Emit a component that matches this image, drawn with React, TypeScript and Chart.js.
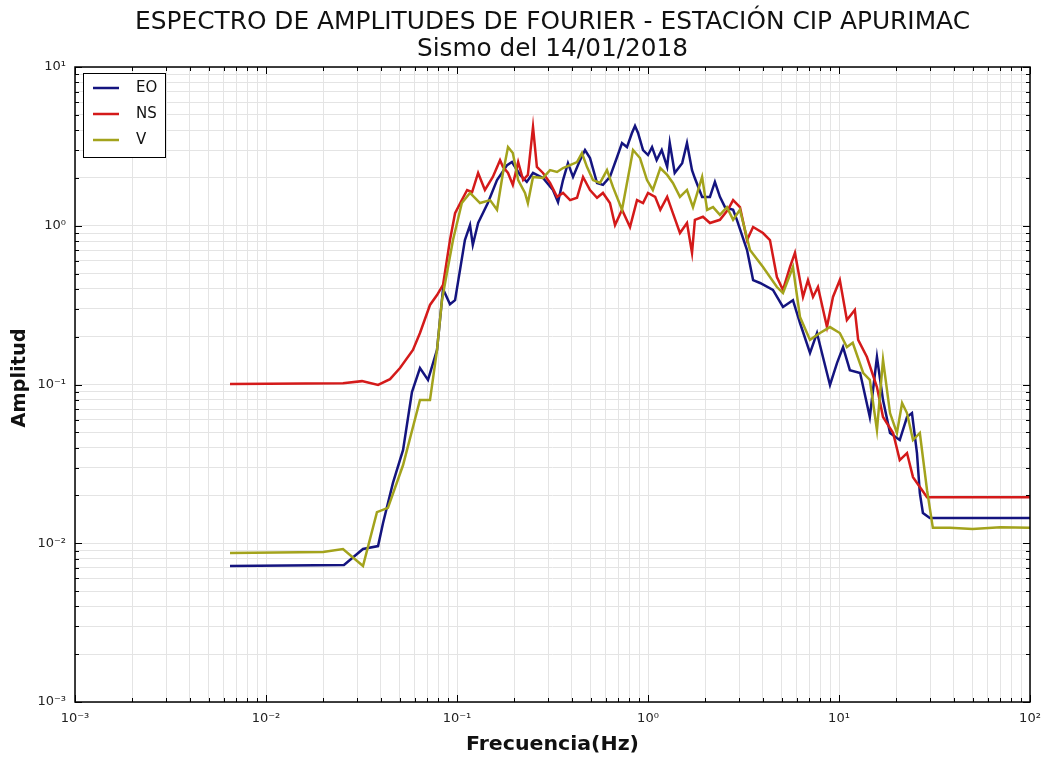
import React, { useEffect, useRef } from 'react';
import { Chart, registerables } from 'chart.js';

Chart.register(...registerables);

// ---- Data (frequency in Hz, Fourier amplitude) ----
const eoFreq = [0.00648, 0.0256, 0.0322, 0.0386, 0.041, 0.0462, 0.0522, 0.0581, 0.064, 0.0705, 0.0786, 0.0845, 0.0919, 0.0977, 0.110, 0.117, 0.121, 0.129, 0.145, 0.162, 0.183, 0.194, 0.214, 0.232, 0.250, 0.282, 0.318, 0.338, 0.359, 0.381, 0.405, 0.441, 0.468, 0.497, 0.541, 0.581, 0.632, 0.689, 0.731, 0.776, 0.824, 0.855, 0.887, 0.942, 1.0, 1.05, 1.11, 1.18, 1.26, 1.30, 1.38, 1.51, 1.60, 1.70, 1.76, 1.92, 2.11, 2.24, 2.38, 2.53, 2.79, 2.92, 3.30, 3.55, 3.86, 4.51, 5.09, 5.74, 6.25, 7.05, 7.67, 8.24, 8.97, 9.77, 10.5, 11.4, 12.9, 14.5, 15.8, 17.0, 18.5, 20.8, 22.7, 24.1, 25.6, 26.5, 27.5, 29.9, 50, 100];
const eoAmp = [0.00719, 0.0073, 0.0092, 0.0096, 0.0134, 0.024, 0.0387, 0.0897, 0.127, 0.107, 0.165, 0.40, 0.32, 0.34, 0.813, 1.01, 0.757, 1.04, 1.39, 1.94, 2.41, 2.52, 2.09, 1.89, 2.15, 2.00, 1.68, 1.41, 1.94, 2.48, 2.03, 2.59, 3.00, 2.67, 1.86, 1.81, 2.03, 2.71, 3.32, 3.13, 3.84, 4.25, 3.84, 3.00, 2.79, 3.13, 2.59, 3.00, 2.35, 3.32, 2.15, 2.48, 3.32, 2.24, 1.99, 1.52, 1.52, 1.89, 1.52, 1.31, 1.26, 1.09, 0.703, 0.455, 0.436, 0.394, 0.308, 0.340, 0.244, 0.158, 0.211, 0.149, 0.0993, 0.137, 0.172, 0.123, 0.118, 0.0624, 0.149, 0.0798, 0.0495, 0.0447, 0.0624, 0.0661, 0.0370, 0.0207, 0.0155, 0.0144, 0.0144, 0.0144];

const nsFreq = [0.00648, 0.0253, 0.0318, 0.0386, 0.0446, 0.0503, 0.0588, 0.064, 0.0722, 0.0786, 0.0845, 0.0919, 0.0977, 0.106, 0.113, 0.120, 0.129, 0.140, 0.154, 0.168, 0.174, 0.185, 0.196, 0.209, 0.222, 0.235, 0.250, 0.262, 0.282, 0.307, 0.334, 0.359, 0.391, 0.425, 0.457, 0.497, 0.541, 0.581, 0.632, 0.672, 0.731, 0.805, 0.876, 0.942, 1.0, 1.09, 1.16, 1.26, 1.35, 1.47, 1.60, 1.70, 1.76, 1.94, 2.11, 2.38, 2.62, 2.79, 3.03, 3.30, 3.55, 4.00, 4.35, 4.73, 5.09, 5.54, 5.88, 6.48, 6.88, 7.31, 7.76, 8.65, 9.30, 10.1, 11.0, 12.1, 12.6, 14.0, 15.8, 17.0, 19.2, 20.8, 22.7, 24.4, 26.5, 28.9, 50, 100];
const nsAmp = [0.1007, 0.102, 0.105, 0.0993, 0.108, 0.127, 0.165, 0.211, 0.317, 0.366, 0.424, 0.813, 1.20, 1.45, 1.68, 1.63, 2.15, 1.68, 2.03, 2.59, 2.35, 2.15, 1.81, 2.52, 1.94, 2.09, 4.19, 2.35, 2.15, 1.86, 1.52, 1.61, 1.45, 1.50, 2.03, 1.68, 1.50, 1.61, 1.39, 1.01, 1.26, 0.982, 1.45, 1.39, 1.61, 1.52, 1.26, 1.52, 1.20, 0.900, 1.04, 0.674, 1.09, 1.14, 1.04, 1.09, 1.26, 1.45, 1.31, 0.813, 0.982, 0.900, 0.813, 0.475, 0.394, 0.550, 0.674, 0.356, 0.455, 0.356, 0.411, 0.230, 0.356, 0.455, 0.255, 0.295, 0.191, 0.149, 0.0964, 0.0624, 0.0495, 0.0334, 0.0370, 0.0261, 0.0226, 0.0195, 0.0195, 0.0195];

const vFreq = [0.00648, 0.0199, 0.0253, 0.0322, 0.0381, 0.0435, 0.0522, 0.064, 0.0722, 0.0786, 0.0834, 0.0953, 0.106, 0.117, 0.132, 0.149, 0.162, 0.174, 0.185, 0.196, 0.209, 0.227, 0.235, 0.250, 0.282, 0.307, 0.334, 0.359, 0.391, 0.425, 0.451, 0.479, 0.515, 0.561, 0.610, 0.656, 0.731, 0.805, 0.835, 0.908, 0.988, 1.06, 1.16, 1.26, 1.35, 1.47, 1.60, 1.72, 1.92, 2.04, 2.19, 2.38, 2.59, 2.79, 3.03, 3.42, 4.00, 4.73, 5.09, 5.74, 6.25, 7.05, 7.95, 8.97, 10.1, 11.0, 11.8, 13.4, 14.5, 15.8, 17.0, 18.5, 20.1, 21.4, 22.7, 24.4, 26.5, 28.9, 31.0, 38.1, 50, 70, 100];
const vAmp = [0.00868, 0.00881, 0.0092, 0.00719, 0.0157, 0.0167, 0.0311, 0.0798, 0.0798, 0.165, 0.340, 0.813, 1.39, 1.61, 1.39, 1.45, 1.26, 2.15, 3.13, 2.87, 1.94, 1.61, 1.39, 2.03, 2.00, 2.24, 2.18, 2.31, 2.41, 2.52, 2.87, 2.35, 1.94, 1.86, 2.24, 1.75, 1.26, 2.35, 3.00, 2.67, 1.94, 1.68, 2.31, 2.09, 1.86, 1.52, 1.68, 1.31, 2.03, 1.26, 1.31, 1.17, 1.31, 1.09, 1.26, 0.703, 0.550, 0.411, 0.377, 0.550, 0.266, 0.191, 0.211, 0.230, 0.211, 0.172, 0.183, 0.118, 0.107, 0.0517, 0.143, 0.0661, 0.0495, 0.0764, 0.0661, 0.0447, 0.0495, 0.0216, 0.0125, 0.0125, 0.0123, 0.0126, 0.0125];

const seriesNames = ['EO', 'NS', 'V'];
const seriesColors = ['#14147f', '#d41a1a', '#a3a31c'];

const titleLines = ['ESPECTRO DE AMPLITUDES DE FOURIER - ESTACIÓN CIP APURIMAC', 'Sismo del 14/01/2018'];
const xAxisTitle = 'Frecuencia(Hz)';
const yAxisTitle = 'Amplitud';

const xDecades = [-3, -2, -1, 0, 1, 2];
const yDecades = [-3, -2, -1, 0, 1];
const minorMultipliers = [1, 2, 3, 4, 5, 6, 7, 8, 9];

const supMap: Record<string, string> = { '-': '⁻', '0': '⁰', '1': '¹', '2': '²', '3': '³', '4': '⁴', '5': '⁵', '6': '⁶', '7': '⁷', '8': '⁸', '9': '⁹' };
const powLabel = (e: number) => '10' + String(e).split('').map((c) => supMap[c] || c).join('');

function buildTicks(decades: number[]) {
  const out: { value: number; major: boolean }[] = [];
  for (let i = 0; i < decades.length; i++) {
    const d = decades[i];
    if (i === decades.length - 1) {
      out.push({ value: Math.pow(10, d), major: true });
    } else {
      for (const m of minorMultipliers) out.push({ value: m * Math.pow(10, d), major: m === 1 });
    }
  }
  return out;
}

const isPow10 = (v: number) => {
  const e = Math.log10(v);
  return Math.abs(e - Math.round(e)) < 1e-6;
};

function fitText(ctx: CanvasRenderingContext2D, text: string, cx: number, cy: number, font: string, targetW: number, rotate = false) {
  ctx.save();
  ctx.font = font;
  const w = ctx.measureText(text).width;
  const s = targetW / w;
  ctx.translate(cx, cy);
  if (rotate) ctx.rotate(-Math.PI / 2);
  ctx.scale(s, 1);
  ctx.textAlign = 'center';
  ctx.textBaseline = 'middle';
  ctx.fillStyle = '#111';
  ctx.fillText(text, 0, 0);
  ctx.restore();
}

const decorPlugin = {
  id: 'decor',
  afterDraw(chart: any) {
    const { ctx, chartArea: a, scales } = chart;
    ctx.save();
    // inward tick marks on all four sides
    ctx.strokeStyle = '#000';
    ctx.lineWidth = 1;
    for (const t of scales.x.ticks) {
      const px = Math.round(scales.x.getPixelForValue(t.value)) + 0.5;
      const len = isPow10(t.value) ? 7 : 4;
      ctx.beginPath();
      ctx.moveTo(px, a.bottom); ctx.lineTo(px, a.bottom - len);
      ctx.moveTo(px, a.top); ctx.lineTo(px, a.top + len);
      ctx.stroke();
    }
    for (const t of scales.y.ticks) {
      const py = Math.round(scales.y.getPixelForValue(t.value)) + 0.5;
      const len = isPow10(t.value) ? 7 : 4;
      ctx.beginPath();
      ctx.moveTo(a.left, py); ctx.lineTo(a.left + len, py);
      ctx.moveTo(a.right, py); ctx.lineTo(a.right - len, py);
      ctx.stroke();
    }
    // frame
    ctx.lineWidth = 1.5;
    ctx.strokeRect(a.left, a.top, a.right - a.left, a.bottom - a.top);

    // legend
    const lx = a.left + 8, ly = a.top + 6, lw = 82, lh = 84;
    ctx.fillStyle = '#fff';
    ctx.fillRect(lx, ly, lw, lh);
    ctx.lineWidth = 1;
    ctx.strokeStyle = '#000';
    ctx.strokeRect(lx + 0.5, ly + 0.5, lw, lh);
    seriesNames.forEach((name, i) => {
      const yy = ly + 15 + i * 26;
      ctx.strokeStyle = seriesColors[i];
      ctx.lineWidth = 2.5;
      ctx.beginPath();
      ctx.moveTo(lx + 10, yy); ctx.lineTo(lx + 36, yy);
      ctx.stroke();
      ctx.fillStyle = '#111';
      ctx.font = '15px "DejaVu Sans"';
      ctx.textAlign = 'left';
      ctx.textBaseline = 'middle';
      ctx.fillText(name, lx + 53, yy);
    });

    // titles
    const cx = (a.left + a.right) / 2;
    fitText(ctx, titleLines[0], cx, 23, '24px "DejaVu Sans"', 835);
    fitText(ctx, titleLines[1], cx, 50, '24px "DejaVu Sans"', 271);
    fitText(ctx, xAxisTitle, cx, 745, 'bold 20px "DejaVu Sans"', 173);
    fitText(ctx, yAxisTitle, 20, 378, 'bold 20px "DejaVu Sans"', 99, true);
    ctx.restore();
  },
};

export default function App() {
  const canvasRef = useRef<HTMLCanvasElement | null>(null);

  useEffect(() => {
    document.body.style.margin = '0';
    const canvas = canvasRef.current;
    if (!canvas) return;
    const mk = (xs: number[], ys: number[]) => xs.map((x, i) => ({ x, y: ys[i] }));
    const allData = [mk(eoFreq, eoAmp), mk(nsFreq, nsAmp), mk(vFreq, vAmp)];
    const chart = new Chart(canvas, {
      type: 'line',
      data: {
        datasets: seriesNames.map((name, i) => ({
          label: name,
          data: allData[i],
          borderColor: seriesColors[i],
          backgroundColor: seriesColors[i],
          borderWidth: 2.5,
          pointRadius: 0,
          tension: 0,
          fill: false,
          order: 3 - i,
        })),
      },
      options: {
        responsive: false,
        animation: false,
        devicePixelRatio: 1,
        layout: { padding: { top: 67, right: 18, left: 0, bottom: 0 } },
        plugins: { legend: { display: false }, tooltip: { enabled: false }, title: { display: false } },
        scales: {
          x: {
            type: 'logarithmic',
            min: 0.001,
            max: 100,
            afterBuildTicks: (s: any) => { s.ticks = buildTicks(xDecades); },
            afterFit: (s: any) => { s.height = 55; s.paddingLeft = 0; s.paddingRight = 0; },
            grid: { color: '#e4e4e4', lineWidth: 1, drawTicks: false },
            border: { display: false },
            ticks: {
              autoSkip: false,
              maxRotation: 0,
              padding: 9,
              color: '#222',
              font: { family: 'DejaVu Sans', size: 13 },
              callback: (v: any) => (isPow10(Number(v)) ? powLabel(Math.round(Math.log10(Number(v)))) : ''),
            },
          },
          y: {
            type: 'logarithmic',
            min: 0.001,
            max: 10,
            afterBuildTicks: (s: any) => { s.ticks = buildTicks(yDecades); },
            afterFit: (s: any) => { s.width = 75; s.paddingTop = 0; s.paddingBottom = 0; },
            grid: { color: '#e4e4e4', lineWidth: 1, drawTicks: false },
            border: { display: false },
            ticks: {
              autoSkip: false,
              padding: 9,
              color: '#222',
              font: { family: 'DejaVu Sans', size: 13 },
              callback: (v: any) => (isPow10(Number(v)) ? powLabel(Math.round(Math.log10(Number(v)))) : ''),
            },
          },
        },
      },
      plugins: [decorPlugin],
    } as any);
    return () => chart.destroy();
  }, []);

  return (
    <div style={{ width: 1048, height: 757, background: '#fff' }}>
      <canvas ref={canvasRef} width={1048} height={757} style={{ display: 'block' }} />
    </div>
  );
}
